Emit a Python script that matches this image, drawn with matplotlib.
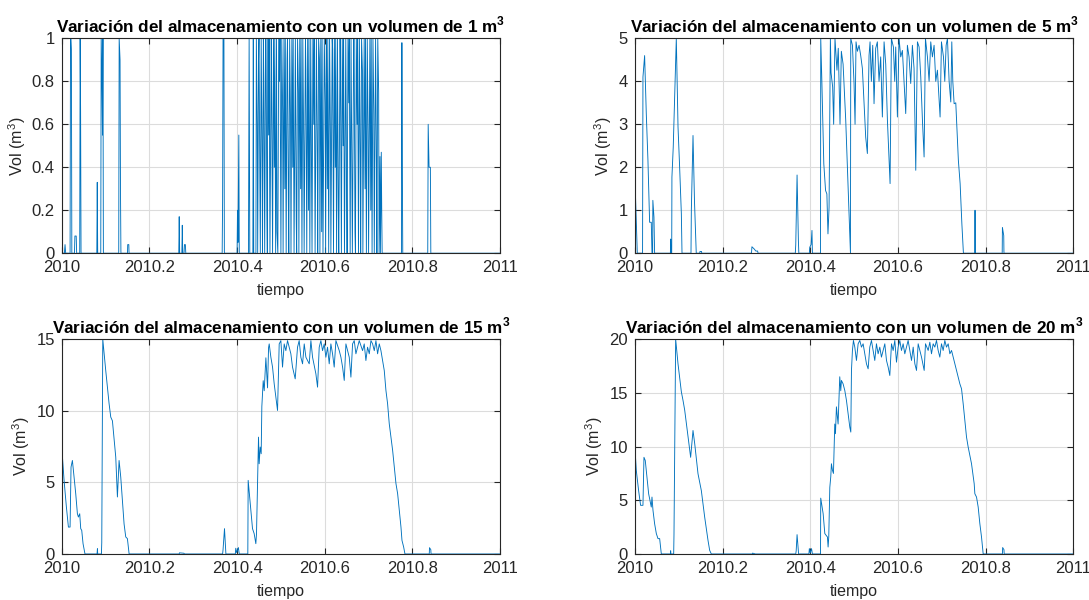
import matplotlib
matplotlib.use("Agg")
import matplotlib.pyplot as plt

plt.rcParams["font.family"] = ["Liberation Sans", "DejaVu Sans"]
plt.rcParams["mathtext.fontset"] = "custom"
plt.rcParams["mathtext.rm"] = "Liberation Sans"
plt.rcParams["mathtext.bf"] = "Liberation Sans:bold"

YEAR0 = 2010

# volumen de almacenamiento de 1 m3 (fraccion del año, m3)
t1 = [0, 0.006, 0.0075, 0.009, 0.019, 0.020, 0.021, 0.022, 0.023, 0.029, 0.030, 0.033, 0.034,
      0.041, 0.042, 0.043, 0.044, 0.080, 0.081, 0.082, 0.089, 0.090, 0.092, 0.093, 0.094, 0.095,
      0.130, 0.131, 0.133, 0.134, 0.135, 0.150, 0.1505, 0.153, 0.1535, 0.267, 0.268, 0.269,
      0.274, 0.275, 0.276, 0.279, 0.280, 0.282, 0.283, 0.366, 0.367, 0.368, 0.370, 0.371,
      0.400, 0.401, 0.402, 0.404, 0.405, 0.426, 0.4275, 0.429, 0.436, 0.437, 0.438,
      0.443, 0.444, 0.446, 0.447, 0.449, 0.450, 0.452, 0.453, 0.455, 0.457, 0.458, 0.460, 0.461,
      0.463, 0.465, 0.466, 0.468, 0.469, 0.470, 0.472, 0.473, 0.475, 0.478, 0.479, 0.481, 0.483,
      0.485, 0.486, 0.488, 0.490, 0.491, 0.493, 0.495, 0.497, 0.498, 0.500, 0.502, 0.504, 0.505,
      0.507, 0.509, 0.510, 0.512, 0.514, 0.515, 0.517, 0.518, 0.520, 0.522, 0.523, 0.525, 0.527,
      0.528, 0.530, 0.533, 0.535, 0.536, 0.538, 0.540, 0.541, 0.543, 0.545, 0.546, 0.548, 0.550,
      0.552, 0.553, 0.556, 0.557, 0.559, 0.561, 0.563, 0.564, 0.566, 0.568, 0.570, 0.571, 0.573,
      0.575, 0.576, 0.578, 0.581, 0.583, 0.584, 0.586, 0.588, 0.589, 0.591, 0.593, 0.594, 0.596,
      0.599, 0.601, 0.602, 0.604, 0.606, 0.607, 0.609, 0.611, 0.613, 0.614, 0.617, 0.618, 0.620,
      0.622, 0.624, 0.625, 0.627, 0.629, 0.631, 0.632, 0.635, 0.636, 0.638, 0.640, 0.642, 0.643,
      0.645, 0.648, 0.650, 0.651, 0.653, 0.655, 0.656, 0.658, 0.660, 0.662, 0.663, 0.666, 0.667,
      0.669, 0.670, 0.672, 0.674, 0.675, 0.677, 0.679, 0.681, 0.682, 0.684, 0.686, 0.687, 0.690,
      0.692, 0.693, 0.695, 0.697, 0.699, 0.700, 0.703, 0.705, 0.706, 0.708, 0.710, 0.712, 0.713,
      0.716, 0.718, 0.719, 0.721, 0.723, 0.724, 0.726, 0.727, 0.729, 0.730, 0.731,
      0.775, 0.776, 0.777, 0.778, 0.835, 0.836, 0.838, 0.841, 0.842, 1.0]
v1 = [0, 0, 0.04, 0, 0, 1, 1, 0.95, 0, 0, 0.08, 0.08, 0,
      0, 1, 0.66, 0, 0, 0.33, 0, 0, 1, 0.75, 0.55, 1, 0,
      0, 1, 0.9, 0.3, 0, 0, 0.04, 0.04, 0, 0, 0.17, 0,
      0, 0.13, 0, 0, 0.04, 0.04, 0, 0, 0.25, 1, 1, 0,
      0, 0.2, 0.05, 0.55, 0, 0, 1, 0, 0, 1, 0,
      0, 1, 0.6, 0, 0.9, 1, 0.3, 0, 1, 0.45, 0, 1, 0.8,
      0, 1, 1, 0.2, 0, 1, 0.55, 1, 0, 1, 0.7, 0, 1,
      0.4, 1, 0, 1, 0.1, 0, 1, 0.8, 1, 0, 1, 0.65, 0,
      1, 0.3, 1, 0, 0.9, 1, 0.25, 0, 1, 0.6, 0, 1, 0.4,
      1, 0, 1, 0.15, 0, 1, 0.75, 0, 1, 0.3, 1, 0, 1,
      0.5, 0, 1, 0.85, 0, 1, 0.2, 1, 0, 1, 0.35, 0, 1,
      0.6, 1, 0, 1, 0.45, 0, 1, 0.9, 0, 1, 0.1, 1, 0,
      1, 0.7, 0, 1, 0.3, 1, 0, 1, 0.55, 0, 1, 0.95, 0,
      1, 0.4, 1, 0, 1, 0.2, 0, 1, 0.8, 0, 1, 0.5, 1,
      0, 1, 0.25, 0, 1, 0.7, 1, 0, 1, 0.35, 0, 1, 1,
      0.1, 0, 1, 0.6, 1, 0, 1, 0.45, 0, 1, 0.85, 0, 1,
      0.3, 1, 0, 1, 0.55, 0, 1, 0.2, 1, 0, 1, 0.65, 0,
      1, 0.4, 0, 1, 0.75, 0, 0.45, 0, 0.47, 0.2, 0,
      0, 0.98, 0.4, 0, 0, 0.6, 0.4, 0.4, 0, 0]

# volumen de almacenamiento de 5 m3
t5 = [0, 0.003, 0.0055, 0.0175, 0.0184, 0.0222, 0.026, 0.0298, 0.0336, 0.0374, 0.039, 0.0405,
      0.041, 0.0435, 0.045, 0.081, 0.0816, 0.0825, 0.084, 0.0845, 0.0875, 0.0945, 0.0984, 0.1021,
      0.106, 0.1075, 0.128, 0.1288, 0.1326, 0.136, 0.140, 0.148, 0.1485, 0.152, 0.1525, 0.266,
      0.267, 0.272, 0.276, 0.280, 0.281, 0.366, 0.367, 0.370, 0.373, 0.374, 0.398, 0.399, 0.402,
      0.404, 0.405, 0.4235, 0.424, 0.4265, 0.431, 0.435, 0.438, 0.4405, 0.443, 0.446, 0.4475,
      0.4512, 0.4535, 0.4565, 0.461, 0.464, 0.468, 0.471, 0.475, 0.481, 0.487, 0.4918, 0.4925,
      0.4963, 0.5, 0.5023, 0.5045, 0.5076, 0.5114, 0.5152, 0.519, 0.5228, 0.5266, 0.5304, 0.5342,
      0.5365, 0.5395, 0.5426, 0.5456, 0.5494, 0.5532, 0.557, 0.5608, 0.5646, 0.5685, 0.5723,
      0.5761, 0.5822, 0.5852, 0.5898, 0.5928, 0.5951, 0.5989, 0.6027, 0.6065, 0.6103, 0.6141,
      0.6179, 0.6217, 0.6255, 0.6293, 0.6331, 0.6369, 0.6408, 0.6446, 0.6484, 0.6522, 0.656,
      0.6598, 0.6629, 0.6674, 0.6712, 0.675, 0.6788, 0.6826, 0.6864, 0.6902, 0.6963, 0.6994,
      0.704, 0.707, 0.7101, 0.7131, 0.7169, 0.7207, 0.723, 0.7253, 0.7283, 0.7321, 0.7380,
      0.7420, 0.7460, 0.7495, 0.775, 0.776, 0.777, 0.838, 0.8385, 0.8415, 0.842, 1.0]
v5 = [1.77, 0.8, 0, 0, 4.1, 4.6, 3.25, 2.16, 0.72, 0.72, 0, 0,
      1.23, 0.84, 0, 0, 0.33, 0, 0, 1.77, 2.47, 5, 2.94, 2.0,
      0.92, 0, 0, 1.0, 2.74, 1.2, 0, 0, 0.04, 0.04, 0, 0,
      0.15, 0.1, 0.05, 0.05, 0, 0, 0.2, 1.82, 0.3, 0, 0, 0.14, 0.2,
      0.53, 0, 0, 5, 4.03, 2.08, 1.46, 1.38, 0.45, 1.07, 5, 4.2,
      3.87, 3.0, 5, 4.26, 4.77, 3.0, 4.7, 4.4, 3.1, 1.38, 0, 5,
      4.84, 3.95, 3.0, 4.92, 4.7, 4.84, 4.6, 4.3, 3.48, 2.7, 2.32, 4.6,
      4.92, 4.0, 4.84, 3.48, 4.77, 4.92, 4.0, 4.57, 3.17, 4.92, 4.4,
      3.1, 1.62, 5, 4.8, 4.0, 4.8, 3.17, 5, 4.57, 4.72, 4.0,
      3.25, 4.84, 4.57, 3.95, 4.84, 4.3, 1.93, 4.92, 4.8, 4.1, 3.1,
      2.24, 5, 4.57, 4.0, 4.92, 4.57, 4.84, 4.0, 4.26, 3.17, 4.92,
      4.57, 4.0, 4.84, 5, 4.0, 3.52, 4.92, 4.0, 3.48, 3.5, 2.16,
      1.62, 0.68, 0, 0, 1.0, 0, 0, 0.6, 0.41, 0, 0]

# volumen de almacenamiento de 15 m3
t15 = [0, 0.0053, 0.0106, 0.0152, 0.019, 0.0212, 0.0243, 0.028, 0.0319, 0.0357, 0.038, 0.041,
       0.0433, 0.0456, 0.0486, 0.053, 0.0805, 0.0814, 0.082, 0.0905, 0.0913, 0.0936, 0.1004,
       0.108, 0.1118, 0.1156, 0.1232, 0.127, 0.1308, 0.1346, 0.1422, 0.146, 0.1498, 0.1537,
       0.268, 0.2685, 0.279, 0.2795, 0.367, 0.368, 0.3713, 0.374, 0.3745, 0.396, 0.397, 0.399,
       0.403, 0.405, 0.4245, 0.4253, 0.4314, 0.4352, 0.439, 0.4428, 0.4443, 0.4466, 0.4489,
       0.4504, 0.4527, 0.455, 0.4565, 0.4596, 0.4619, 0.4657, 0.4695, 0.4718, 0.4733, 0.4771,
       0.4809, 0.4847, 0.4885, 0.4923, 0.4961, 0.4999, 0.5037, 0.5075, 0.5113, 0.5151, 0.5189,
       0.5227, 0.5265, 0.5326, 0.5379, 0.5417, 0.5455, 0.5494, 0.5532, 0.557, 0.5646, 0.5684,
       0.5722, 0.5798, 0.5836, 0.5874, 0.5912, 0.595, 0.5988, 0.6026, 0.6064, 0.6102, 0.614,
       0.6178, 0.6216, 0.6255, 0.6331, 0.6369, 0.6407, 0.6445, 0.6483, 0.6559, 0.6597, 0.6635,
       0.6673, 0.6711, 0.6749, 0.6787, 0.6863, 0.6901, 0.6939, 0.6977, 0.7016, 0.7054, 0.7092,
       0.713, 0.7168, 0.7206, 0.7244, 0.7282, 0.7358, 0.7396, 0.7434, 0.7472, 0.7549, 0.7625,
       0.7663, 0.7701, 0.7739, 0.7762, 0.78, 0.783, 0.8385, 0.839, 0.842, 0.8425, 1.0]
v15 = [7.47, 5.14, 3.28, 1.88, 1.88, 6.07, 6.53, 5.37, 4.21, 2.81, 2.58, 2.81,
       1.77, 1.65, 0.72, 0, 0, 0.37, 0, 0, 0.8, 15, 12.8,
       10.5, 9.56, 9.3, 6.77, 3.98, 6.53, 5.37, 2.1, 1.19, 1.07, 0,
       0, 0.08, 0.05, 0, 0, 0.3, 1.77, 0.2, 0, 0, 0.4, 0.1,
       0.45, 0, 0, 5.14, 3.05, 1.77, 1.42, 0.72, 1.4, 4.9, 8.16,
       6.3, 7.47, 7.0, 10.3, 12.1, 11.4, 13.7, 11.6, 14.4, 14.67, 13.74,
       13.05, 11.88, 10.95, 10.02, 14.67, 14.9, 13.05, 14.67, 14.2, 14.9, 14.44,
       13.98, 13.05, 12.23, 14.44, 14.9, 13.74, 13.28, 14.67, 13.74, 13.28, 14.9,
       13.74, 12.58, 11.65, 14.44, 14.9, 14.2, 14.67, 13.74, 14.44, 13.28, 14.67,
       13.98, 13.05, 14.9, 14.2, 13.74, 13.05, 12.12, 14.67, 13.74, 12.35, 14.67,
       14.9, 13.98, 14.44, 14.9, 14.2, 14.67, 13.51, 14.44, 13.98, 14.9, 14.67,
       14.2, 14.9, 13.98, 14.67, 14.2, 12.81, 11.42, 10.49, 9.09, 7.23, 4.91,
       4.21, 3.05, 1.88, 0.95, 0.49, 0, 0, 0.44, 0.3, 0, 0]

# volumen de almacenamiento de 20 m3
t20 = [0, 0.0032, 0.0085, 0.013, 0.0184, 0.0207, 0.0237, 0.0276, 0.0314, 0.0336, 0.0374, 0.039,
       0.0413, 0.045, 0.0489, 0.0527, 0.0565, 0.0603, 0.081, 0.0816, 0.0822, 0.0885, 0.0892,
       0.093, 0.0984, 0.106, 0.1098, 0.1136, 0.1212, 0.1272, 0.1326, 0.1364, 0.144, 0.1516,
       0.1592, 0.1668, 0.1706, 0.1744, 0.268, 0.2685, 0.275, 0.367, 0.368, 0.370, 0.373, 0.3735,
       0.397, 0.398, 0.400, 0.403, 0.405, 0.4235, 0.424, 0.4295, 0.4333, 0.4393, 0.4408, 0.4423,
       0.4447, 0.4469, 0.4484, 0.4507, 0.453, 0.456, 0.4576, 0.4598, 0.4636, 0.4674, 0.4697,
       0.4712, 0.475, 0.4789, 0.4827, 0.4865, 0.4903, 0.4926, 0.4941, 0.4963, 0.4986, 0.5017,
       0.5055, 0.5093, 0.5131, 0.5169, 0.5207, 0.5245, 0.5283, 0.5321, 0.5359, 0.5397, 0.5435,
       0.5473, 0.5511, 0.5549, 0.5587, 0.5625, 0.5664, 0.5702, 0.574, 0.5778, 0.5816, 0.5854,
       0.5892, 0.593, 0.5968, 0.6006, 0.6044, 0.6082, 0.612, 0.6158, 0.6196, 0.6234, 0.6272,
       0.6311, 0.6349, 0.6387, 0.6425, 0.6463, 0.6539, 0.66, 0.663, 0.6691, 0.6729, 0.6767,
       0.6805, 0.6843, 0.6881, 0.6919, 0.6957, 0.6995, 0.7033, 0.7071, 0.7109, 0.7148, 0.7186,
       0.7224, 0.7262, 0.7338, 0.7414, 0.7452, 0.749, 0.7566, 0.7604, 0.768, 0.7741, 0.7756,
       0.7794, 0.7832, 0.787, 0.7908, 0.7946, 0.8385, 0.839, 0.842, 0.8425, 1.0]
v20 = [9.95, 7.78, 5.9, 4.53, 4.53, 9.0, 8.7, 7.16, 5.6, 5.15, 4.37, 5.3,
       4.06, 2.82, 1.9, 1.43, 1.43, 0, 0, 0.3, 0, 0, 1.8,
       20, 17.7, 15.1, 14.3, 13.4, 10.9, 9.0, 11.5, 10.3, 7.47, 5.9,
       3.44, 1.27, 0.34, 0, 0, 0.08, 0, 0, 0.3, 1.8, 0.2, 0,
       0, 0.5, 0.1, 0.5, 0, 0, 5.2, 3.75, 1.9, 1.58, 0.65, 1.58,
       6.2, 7.2, 8.4, 7.8, 7.5, 12.1, 11.2, 13.7, 12.1, 16.5, 15.2,
       16.16, 15.84, 15.22, 14.29, 13.05, 11.81, 11.35, 17.09, 18.95, 19.88, 19.26,
       18.02, 19.57, 19.88, 19.26, 19.57, 18.64, 17.71, 17.24, 19.26, 19.88, 18.95,
       18.02, 19.57, 18.64, 19.26, 18.33, 18.95, 19.57, 18.02, 17.4, 16.62, 19.57,
       18.95, 19.88, 17.86, 19.26, 19.88, 18.95, 19.57, 18.64, 19.26, 19.88, 18.95,
       18.02, 19.26, 17.71, 17.09, 19.57, 18.33, 17.09, 19.57, 18.95, 19.72, 18.64,
       19.57, 19.26, 19.88, 18.95, 18.33, 19.57, 18.95, 19.88, 19.26, 19.57, 18.64,
       18.95, 18.33, 17.09, 15.84, 15.38, 13.98, 10.88, 9.95, 8.4, 6.54, 5.61,
       5.3, 4.37, 2.82, 1.58, 0, 0, 0.6, 0.4, 0, 0]

volumes = ["1", "5", "15", "20"]
series = [(t1, v1), (t5, v5), (t15, v15), (t20, v20)]
y_ticks = [[0, 0.2, 0.4, 0.6, 0.8, 1], [0, 1, 2, 3, 4, 5], [0, 5, 10, 15], [0, 5, 10, 15, 20]]
x_ticks = [2010, 2010.2, 2010.4, 2010.6, 2010.8, 2011]
x_labels = ["2010", "2010.2", "2010.4", "2010.6", "2010.8", "2011"]

fig = plt.figure(figsize=(10.89, 6.0), dpi=100)
positions = [
    [0.0567, 0.578, 0.4025, 0.358],
    [0.5830, 0.578, 0.4025, 0.358],
    [0.0567, 0.0767, 0.4025, 0.358],
    [0.5830, 0.0767, 0.4025, 0.358],
]
for pos, vol, (t, v), yt in zip(positions, volumes, series, y_ticks):
    ax = fig.add_axes(pos)
    ax.plot([YEAR0 + x for x in t], v, color="#0072BD", linewidth=0.65)
    ax.set_xlim(2010, 2011)
    ax.set_ylim(yt[0], yt[-1])
    ax.set_xticks(x_ticks)
    ax.set_xticklabels(x_labels)
    ax.set_yticks(yt)
    ax.set_yticklabels([f"{y:g}" for y in yt])
    ax.grid(True, color="#dcdcdc", linewidth=0.8)
    ax.set_axisbelow(True)
    ax.tick_params(direction="in", top=True, right=True, length=4, width=0.8,
                   labelsize=12, colors="#262626")
    ax.tick_params(axis="x", pad=5)
    ax.tick_params(axis="y", pad=5)
    for s in ax.spines.values():
        s.set_color("#262626")
        s.set_linewidth(0.8)
    ax.set_title(f"Variación del almacenamiento con un volumen de {vol} m$^{{\\mathbf{{3}}}}$",
                 fontsize=12.3, fontweight="bold", pad=4)
    ax.set_xlabel("tiempo", fontsize=11.5, color="#262626", labelpad=6)
    ax.set_ylabel("Vol (m$^3$)", fontsize=11.5, color="#262626", labelpad=3)

fig.savefig("out.png", dpi=100)
